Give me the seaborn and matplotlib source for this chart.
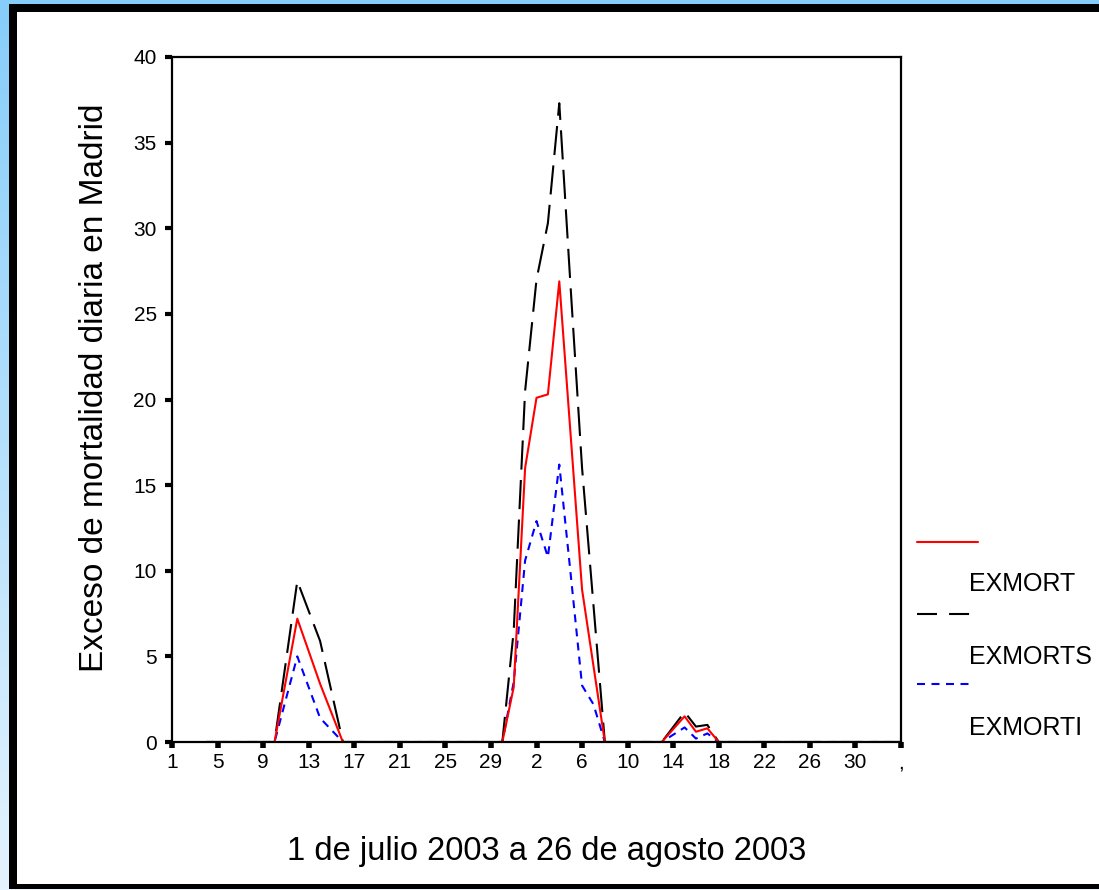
import numpy as np
import pandas as pd
import matplotlib
matplotlib.use("Agg")
import matplotlib.pyplot as plt
import seaborn as sns
from matplotlib.lines import Line2D
from matplotlib.patches import Rectangle

# ---------------- data (day index: 0 = 1 July 2003) ----------------
exmort_day = [3, 9, 11, 13, 15, 29, 30, 31, 32, 33, 34, 36, 38, 43, 45, 46, 47, 48, 64]
exmort_val = [0, 0, 7.2, 3.4, 0, 0, 3.2, 16.0, 20.1, 20.3, 26.9, 8.9, 0, 0, 1.5, 0.6, 0.8, 0, 0]

exmorts_day = [3, 9, 11, 13, 15, 29, 30, 31, 32, 33, 34, 35, 36, 37, 38, 43, 45, 46, 47, 48, 64]
exmorts_val = [0, 0, 9.4, 5.9, 0, 0, 6.5, 20.5, 27.0, 30.3, 37.3, 26.5, 16.0, 8.0, 0, 0, 1.75, 0.9, 1.0, 0, 0]

exmorti_day = [3, 9, 11, 13, 15, 29, 30, 31, 32, 33, 34, 35, 36, 37, 38, 43, 45, 46, 47, 48, 64]
exmorti_val = [0, 0, 5.0, 1.4, 0, 0, 3.5, 10.6, 12.9, 10.8, 16.2, 9.8, 3.3, 2.2, 0, 0, 0.85, 0.2, 0.5, 0, 0]

series_names = ["EXMORT", "EXMORTS", "EXMORTI"]
xtick_pos = list(range(0, 65, 4))
xtick_labels = ["1", "5", "9", "13", "17", "21", "25", "29", "2", "6",
                "10", "14", "18", "22", "26", "30", ","]
ytick_vals = [0, 5, 10, 15, 20, 25, 30, 35, 40]
x_title = "1 de julio 2003 a 26 de agosto 2003"
y_title = "Exceso de mortalidad diaria en Madrid"

df = pd.concat([
    pd.DataFrame({"dia": exmorti_day, "valor": exmorti_val, "serie": "EXMORTI"}),
    pd.DataFrame({"dia": exmorts_day, "valor": exmorts_val, "serie": "EXMORTS"}),
    pd.DataFrame({"dia": exmort_day, "valor": exmort_val, "serie": "EXMORT"}),
], ignore_index=True)

# ---------------- style ----------------
sns.set_style("white")
plt.rcParams["font.family"] = ["Liberation Sans", "DejaVu Sans"]
plt.rcParams["text.color"] = "black"
plt.rcParams["axes.labelcolor"] = "black"
plt.rcParams["xtick.color"] = "black"
plt.rcParams["ytick.color"] = "black"
tick_family = ["Liberation Sans Narrow", "Liberation Sans", "DejaVu Sans"]

W, H = 1099, 890
fig = plt.figure(figsize=(W / 100, H / 100), dpi=100)

# light-blue gradient background
bg = fig.add_axes([0, 0, 1, 1], zorder=-10)
top = np.array(matplotlib.colors.to_rgb("#86cdfa"))
bot = np.array(matplotlib.colors.to_rgb("#e4f3fe"))
t = np.linspace(0, 1, 256)[:, None]
grad = (top[None, :] * (1 - t) + bot[None, :] * t)[:, None, :]
bg.imshow(grad, aspect="auto", extent=[0, 1, 0, 1], origin="upper")
bg.axis("off")

# black frame + white panel
fig.add_artist(Rectangle((9 / W, 1 / H), 1.0, 885 / H, transform=fig.transFigure,
                         facecolor="black", edgecolor="none", zorder=-5))
fig.add_artist(Rectangle((17 / W, 6 / H), 1.0, 872 / H, transform=fig.transFigure,
                         facecolor="white", edgecolor="none", zorder=-4))

ax = fig.add_axes([172 / W, 148 / H, 729 / W, 685 / H])
ax.set_zorder(5)
ax.set_facecolor("white")

palette = {"EXMORT": "#ff0000", "EXMORTS": "black", "EXMORTI": "#0000ff"}
dashes = {"EXMORT": "", "EXMORTS": (14, 5), "EXMORTI": (3.8, 3.0)}
sns.lineplot(data=df, x="dia", y="valor", hue="serie", style="serie",
             hue_order=["EXMORTI", "EXMORTS", "EXMORT"],
             style_order=["EXMORTI", "EXMORTS", "EXMORT"],
             palette=palette, dashes=dashes, linewidth=1.5,
             estimator=None, sort=False, legend=False, ax=ax)

ax.set_xlim(0, 64)
ax.set_ylim(0, 40)
ax.set_xticks(xtick_pos)
ax.set_xticklabels(xtick_labels, family=tick_family, fontsize=15, color="black")
ax.set_yticks(ytick_vals)
ax.set_yticklabels([str(v) for v in ytick_vals], family=tick_family, fontsize=15,
                   color="black")
ax.set_xlabel("")
ax.set_ylabel("")
for sp in ax.spines.values():
    sp.set_visible(True)
    sp.set_color("black")
    sp.set_linewidth(1.6)
ax.tick_params(axis="y", direction="out", length=5, width=3,
               pad=6, color="black", left=True)
ax.tick_params(axis="x", direction="out", length=4, width=4,
               pad=4, color="black", bottom=True)

# axis titles
fig.text(547 / W, (H - 860) / H, x_title, fontsize=23.5, ha="center",
         va="baseline", color="black")
fig.text(95 / W, (H - 388) / H, y_title, fontsize=24, rotation=90,
         ha="center", va="center", color="black")

# legend (line sample above its label)
def fy(y):
    return (H - y) / H

fig.add_artist(Line2D([917 / W, 978 / W], [fy(542)] * 2, color="#ff0000", lw=1.5))
fig.add_artist(Line2D([917 / W, 970 / W], [fy(614)] * 2, color="black", lw=1.5,
                      dashes=(9.6, 5.8)))
fig.add_artist(Line2D([917 / W, 970 / W], [fy(684)] * 2, color="#0000ff", lw=1.5,
                      dashes=(3.84, 3.12)))
for name, y in zip(series_names, [584, 657, 728]):
    fig.text(969 / W, fy(y), name, fontsize=18, ha="left", va="center",
             color="black")

fig.savefig("out.png", dpi=100)
